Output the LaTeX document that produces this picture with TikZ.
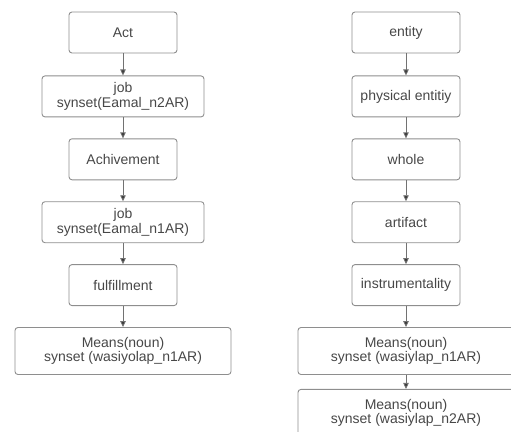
\documentclass[tikz,border=0pt]{standalone}
\usepackage{fontspec}
\setmainfont{Liberation Sans}
\usepackage{xcolor}
\usepackage{tikz}
\usetikzlibrary{arrows.meta, positioning}
\definecolor{boxline}{HTML}{8E8E8E}
\definecolor{boxtext}{HTML}{474747}
\definecolor{tipgray}{HTML}{3A3A3A}
\tikzset{
  synbox/.style={draw=boxline, line width=0.9pt, rounded corners=3pt, align=center,
                 text=boxtext, font=\fontsize{14}{14.5}\selectfont,
                 minimum width=108pt, minimum height=41pt, inner sep=3pt},
  widebox/.style={synbox, minimum width=162pt},
  meansbox/.style={synbox, minimum width=216pt, minimum height=47pt},
  hyparrow/.style={-{Triangle[length=6pt, width=5.5pt, fill=tipgray]}, draw=boxline!80!black, line width=0.8pt}
}
\begin{document}
\begin{tikzpicture}[x=1pt, y=-1pt, node distance=21pt]
\useasboundingbox (0,0) rectangle (511,431);

% Nodes (left chain)
\node[synbox] (act) at (123,32.5) {Act};
\node[widebox, below=22pt of act] (jobtwo) {job\\synset(Eamal\_n2AR)};
\node[synbox, below=of jobtwo] (achieve) {Achivement};
\node[widebox, below=of achieve] (jobone) {job\\synset(Eamal\_n1AR)};
\node[synbox, below=of jobone] (fulfil) {fulfillment};
\node[meansbox, below=of fulfil] (meansl) {Means(noun)\\synset (wasiyolap\_n1AR)};

% Nodes (right chain)
\node[synbox] (entity) at (406,32.5) {entity};
\node[synbox, below=22pt of entity] (physical) {physical entitiy};
\node[synbox, below=of physical] (whole) {whole};
\node[synbox, below=of whole] (artifact) {artifact};
\node[synbox, below=of artifact] (instrument) {instrumentality};
\node[meansbox, below=of instrument] (meansone) {Means(noun)\\synset (wasiylap\_n1AR)};
\node[meansbox, below=14pt of meansone] (meanstwo) {Means(noun)\\synset (wasiylap\_n2AR)};

% Arrows
\draw[hyparrow] (act) -- (jobtwo);
\draw[hyparrow] (jobtwo) -- (achieve);
\draw[hyparrow] (achieve) -- (jobone);
\draw[hyparrow] (jobone) -- (fulfil);
\draw[hyparrow] (fulfil) -- (meansl);

\draw[hyparrow] (entity) -- (physical);
\draw[hyparrow] (physical) -- (whole);
\draw[hyparrow] (whole) -- (artifact);
\draw[hyparrow] (artifact) -- (instrument);
\draw[hyparrow] (instrument) -- (meansone);
\draw[hyparrow] (meansone) -- (meanstwo);

\end{tikzpicture}
\end{document}
